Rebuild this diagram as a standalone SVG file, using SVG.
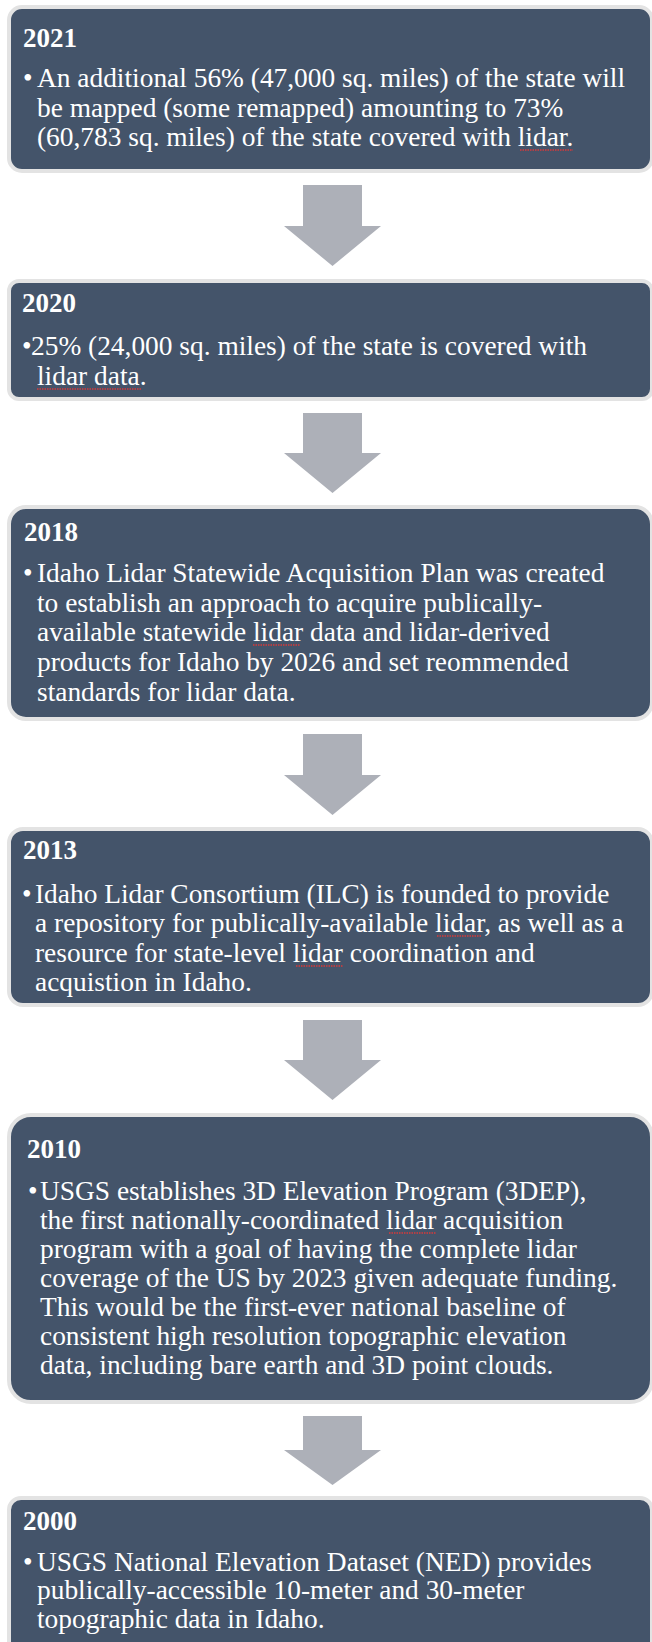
<svg xmlns="http://www.w3.org/2000/svg" width="652" height="1642" viewBox="0 0 652 1642">
<style>
.box{fill:#44546A;stroke:#E3E3E3;stroke-width:4}
.arrow{fill:#ADB0B8}
.title{font-family:"Liberation Serif","Times New Roman",serif;font-weight:bold;font-size:27px;fill:#FFFFFF}
.body{font-family:"Liberation Serif","Times New Roman",serif;font-size:27.4px;fill:#FFFFFF}
.sq{stroke:#D83A3A;stroke-width:1.3;stroke-dasharray:1.5 1;fill:none}
</style>
<rect width="652" height="1642" fill="#FFFFFF"/>
<g id="connectors">
<polygon class="arrow" points="303,185 362,185 362,226 381,226 332.5,266 284,226 303,226"/>
<polygon class="arrow" points="303,413 362,413 362,453 381,453 332.5,493 284,453 303,453"/>
<polygon class="arrow" points="303,734 362,734 362,775 381,775 332.5,815 284,775 303,775"/>
<polygon class="arrow" points="303,1020 362,1020 362,1060 381,1060 332.5,1100 284,1060 303,1060"/>
<polygon class="arrow" points="303,1416 362,1416 362,1450 381,1450 332.5,1485 284,1450 303,1450"/>
</g>
<g id="node-2021">
<rect class="box" x="9" y="7" width="643" height="164" rx="13"/>
<text class="title" x="23" y="47">2021</text>
<text class="body" x="23" y="87">•</text>
<text class="body" x="37" y="87">An additional 56% (47,000 sq. miles) of the state will</text>
<text class="body" x="37" y="117">be mapped (some remapped) amounting to 73%</text>
<text class="body" x="37" y="146">(60,783 sq. miles) of the state covered with lidar.</text>
<path class="sq" d="M520,150 H573"/>
</g>
<g id="node-2020">
<rect class="box" x="9" y="281" width="643" height="118" rx="10"/>
<text class="title" x="22" y="312">2020</text>
<text class="body" x="22" y="355">•</text>
<text class="body" x="31" y="355">25% (24,000 sq. miles) of the state is covered with</text>
<text class="body" x="37" y="385">lidar data.</text>
<path class="sq" d="M37,389 H142"/>
</g>
<g id="node-2018">
<rect class="box" x="9" y="507" width="643" height="212" rx="17"/>
<text class="title" x="24" y="541">2018</text>
<text class="body" x="23" y="582">•</text>
<text class="body" x="37" y="582">Idaho Lidar Statewide Acquisition Plan was created</text>
<text class="body" x="37" y="612">to establish an approach to acquire publically-</text>
<text class="body" x="37" y="641">available statewide lidar data and lidar-derived</text>
<text class="body" x="37" y="671">products for Idaho by 2026 and set reommended</text>
<text class="body" x="37" y="701">standards for lidar data.</text>
<path class="sq" d="M253,645 H300"/>
</g>
<g id="node-2013">
<rect class="box" x="9" y="829" width="643" height="176" rx="14"/>
<text class="title" x="23" y="859">2013</text>
<text class="body" x="22" y="903">•</text>
<text class="body" x="35" y="903">Idaho Lidar Consortium (ILC) is founded to provide</text>
<text class="body" x="35" y="932">a repository for publically-available lidar, as well as a</text>
<text class="body" x="35" y="962">resource for state-level lidar coordination and</text>
<text class="body" x="35" y="991">acquistion in Idaho.</text>
<path class="sq" d="M437,936 H482"/>
<path class="sq" d="M296,966 H343"/>
</g>
<g id="node-2010">
<rect class="box" x="9" y="1115" width="643" height="287" rx="22"/>
<text class="title" x="27" y="1158">2010</text>
<text class="body" x="28" y="1200">•</text>
<text class="body" x="40" y="1200">USGS establishes 3D Elevation Program (3DEP),</text>
<text class="body" x="40" y="1229">the first nationally-coordinated lidar acquisition</text>
<text class="body" x="40" y="1258">program with a goal of having the complete lidar</text>
<text class="body" x="40" y="1287">coverage of the US by 2023 given adequate funding.</text>
<text class="body" x="40" y="1316">This would be the first-ever national baseline of</text>
<text class="body" x="40" y="1345">consistent high resolution topographic elevation</text>
<text class="body" x="40" y="1374">data, including bare earth and 3D point clouds.</text>
<path class="sq" d="M389,1233 H436"/>
</g>
<g id="node-2000">
<rect class="box" x="9" y="1498" width="643" height="200" rx="12"/>
<text class="title" x="23" y="1530">2000</text>
<text class="body" x="23" y="1571">•</text>
<text class="body" x="37" y="1571">USGS National Elevation Dataset (NED) provides</text>
<text class="body" x="37" y="1599">publically-accessible 10-meter and 30-meter</text>
<text class="body" x="37" y="1628">topographic data in Idaho.</text>
</g>
</svg>
